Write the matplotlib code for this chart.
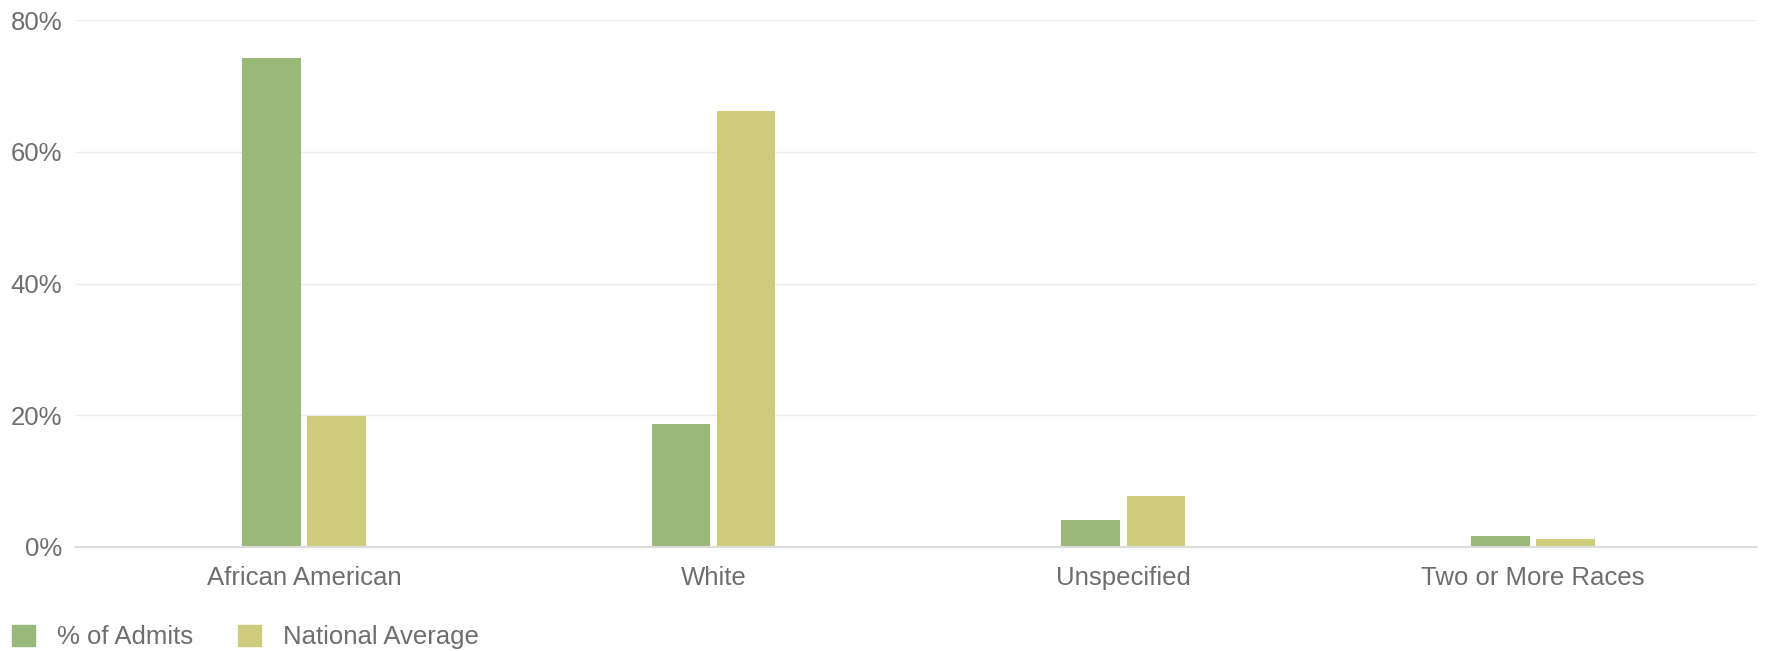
import matplotlib
matplotlib.use("Agg")
import matplotlib.pyplot as plt
from matplotlib.patches import Patch
import numpy as np

categories = ["African American", "White", "Unspecified", "Two or More Races"]
admits = [74.2, 18.7, 4.1, 1.7]
national = [19.9, 66.2, 7.8, 1.2]
yticks = [0, 20, 40, 60, 80]
ytick_labels = ["0%", "20%", "40%", "60%", "80%"]
series_names = ["% of Admits", "National Average"]

green = "#9bb87b"
yellow = "#cfcb7c"
txt = "#6e6e6e"

plt.rcParams['font.family'] = ['Liberation Sans', 'DejaVu Sans']

fig = plt.figure(figsize=(17.66, 6.51), dpi=100)
ax = fig.add_axes([76/1766, 1-547/651, (1756-76)/1766, (547-20)/651])

x = np.arange(len(categories))
w = 0.143
gap = 0.016
ax.bar(x - (w/2 + gap/2), admits, width=w, color=green, zorder=3)
ax.bar(x + (w/2 + gap/2), national, width=w, color=yellow, zorder=3)

ax.set_xlim(-0.556, 3.544)
ax.set_ylim(0, 80)
ax.set_yticks(yticks)
ax.set_yticklabels(ytick_labels)
ax.set_xticks(x)
ax.set_xticklabels(categories)
ax.tick_params(axis='both', length=0, labelsize=18.5, labelcolor=txt)
ax.tick_params(axis='y', pad=10)
ax.tick_params(axis='x', pad=14)

ax.grid(axis='y', color='#ececec', linewidth=1.0, zorder=0)
for s in ['top', 'right', 'left']:
    ax.spines[s].set_visible(False)
ax.spines['bottom'].set_color('#dcdcdc')
ax.spines['bottom'].set_linewidth(1.5)
ax.spines['bottom'].set_zorder(4)

handles = [Patch(color=green), Patch(color=yellow)]
fig.legend(handles, series_names, loc='center left', bbox_to_anchor=(4/1766, 1-637/651),
           ncol=2, frameon=False, fontsize=18.5, handlelength=0.9, handleheight=0.9,
           handletextpad=0.85, columnspacing=1.75, labelcolor=txt, borderaxespad=0, borderpad=0.3)

fig.savefig("out.png", dpi=100, facecolor='white')
